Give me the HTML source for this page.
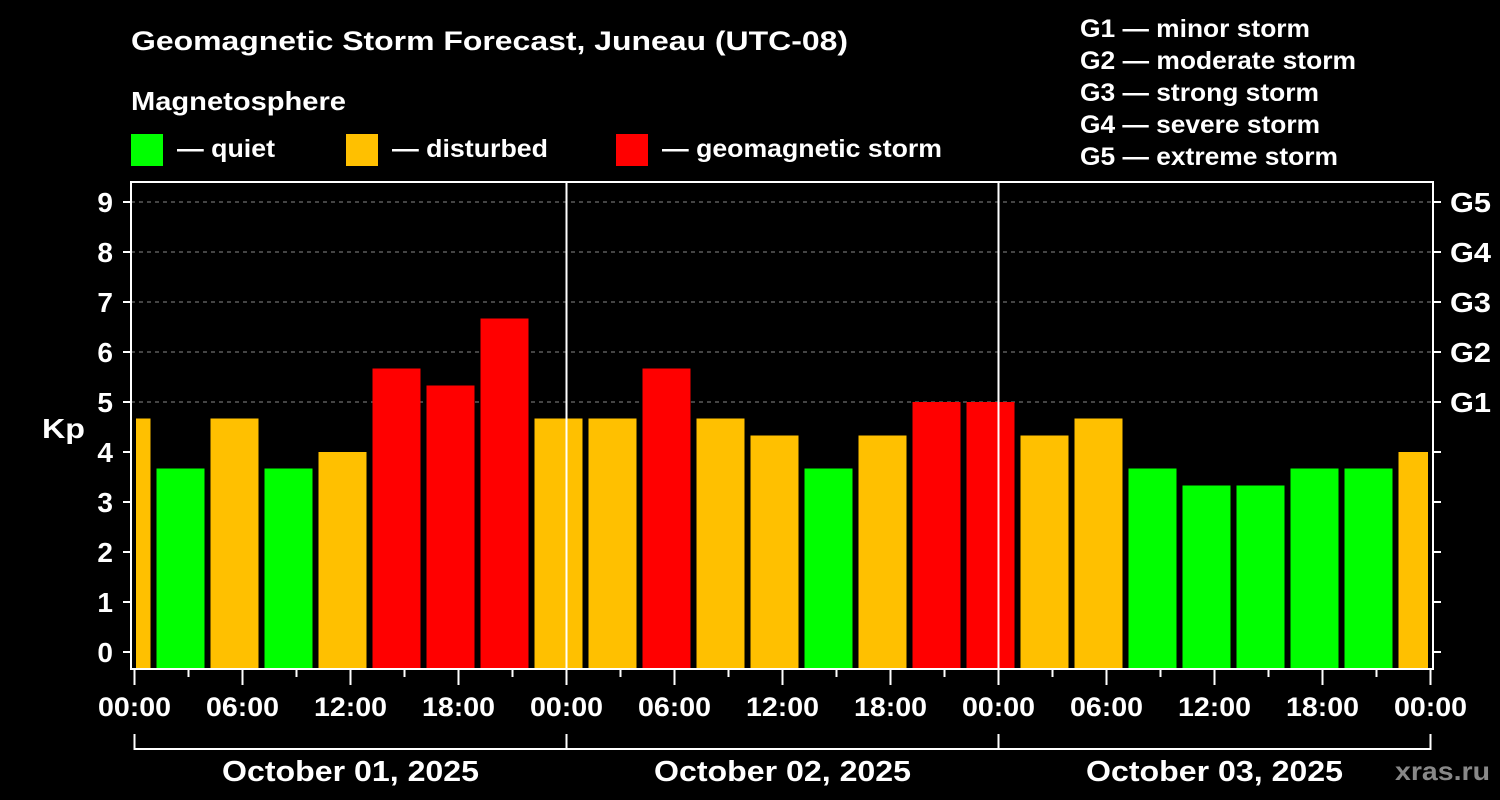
<!DOCTYPE html>
<html><head><meta charset="utf-8"><style>
html,body{margin:0;background:#000;width:1500px;height:800px;overflow:hidden}
svg{display:block;font-family:"Liberation Sans",Arial,sans-serif;font-weight:bold;fill:#fff}
</style></head><body>
<svg id="c" width="1500" height="800">
<text x="131" y="50" font-size="27" textLength="717" lengthAdjust="spacingAndGlyphs">Geomagnetic Storm Forecast, Juneau (UTC-08)</text>
<text x="131" y="110" font-size="26" textLength="215" lengthAdjust="spacingAndGlyphs">Magnetosphere</text>
<g><rect x="131" y="134" width="32" height="32" fill="#00ff00"/><text x="177" y="157" font-size="25" textLength="98" lengthAdjust="spacingAndGlyphs">— quiet</text></g>
<g><rect x="346" y="134" width="32" height="32" fill="#ffc000"/><text x="392" y="157" font-size="25" textLength="156" lengthAdjust="spacingAndGlyphs">— disturbed</text></g>
<g><rect x="616" y="134" width="32" height="32" fill="#ff0000"/><text x="662" y="157" font-size="25" textLength="280" lengthAdjust="spacingAndGlyphs">— geomagnetic storm</text></g>
<g font-size="25">
<text x="1080" y="37" textLength="230" lengthAdjust="spacingAndGlyphs">G1 — minor storm</text><text x="1080" y="69" textLength="276" lengthAdjust="spacingAndGlyphs">G2 — moderate storm</text><text x="1080" y="101" textLength="239" lengthAdjust="spacingAndGlyphs">G3 — strong storm</text><text x="1080" y="133" textLength="240" lengthAdjust="spacingAndGlyphs">G4 — severe storm</text><text x="1080" y="165" textLength="258" lengthAdjust="spacingAndGlyphs">G5 — extreme storm</text></g>
<text x="42" y="438" font-size="28" textLength="43" lengthAdjust="spacingAndGlyphs">Kp</text>
<text x="1395" y="780" font-size="26" textLength="95" lengthAdjust="spacingAndGlyphs" style="fill:#888">xras.ru</text>
<g id="grid"></g><g id="bars"></g><g id="axes"></g>
</svg>
<script>
const kpValues=[4.67,3.67,4.67,3.67,4.0,5.67,5.33,6.67,4.67,4.67,5.67,4.67,4.33,3.67,4.33,5.0,5.0,4.33,4.67,3.67,3.33,3.33,3.67,3.67,4.0];
const yTicks=[0,1,2,3,4,5,6,7,8,9];
const gLabels=["G1","G2","G3","G4","G5"];
const hourLabels=["00:00","06:00","12:00","18:00"];
const dayLabels=["October 01, 2025","October 02, 2025","October 03, 2025"];
const NS="http://www.w3.org/2000/svg";
const L=131,R=1433,T=182,B=669,X0=134.5,pxH=18;
const y=v=>652-v*50, x=h=>X0+h*pxH;
function el(p,t,a){const e=document.createElementNS(NS,t);for(const k in a)e.setAttribute(k,a[k]);p.appendChild(e);return e;}
const grid=document.getElementById('grid'),bars=document.getElementById('bars'),ax=document.getElementById('axes');
for(let v=5;v<=9;v++){const g=el(grid,'line',{x1:L,x2:R,y1:y(v),y2:y(v),stroke:'#888','stroke-dasharray':'4,4','stroke-width':1});

}
kpValues.forEach((v,i)=>{
 let s=-2+i*3,e=s+3;
 let x1=Math.max(x(s)+4,L+5),x2=Math.min(x(e)-2,R-5);
 const c=v>=5?'#ff0000':(v>=4?'#ffc000':'#00ff00');
 const r=el(bars,'rect',{x:x1,y:y(v),width:x2-x1,height:B-y(v),fill:c});
 
 
});
const fr=el(ax,'rect',{x:L,y:T,width:R-L,height:B-T,fill:'none',stroke:'#fff','stroke-width':2});


[1,2].forEach(d=>{const l=el(ax,'line',{x1:x(d*24),x2:x(d*24),y1:T,y2:B,stroke:'#fff','stroke-width':2});

});
yTicks.forEach(v=>{
 el(ax,'line',{x1:123,x2:L,y1:y(v),y2:y(v),stroke:'#fff','stroke-width':2});
 el(ax,'line',{x1:R,x2:1441,y1:y(v),y2:y(v),stroke:'#fff','stroke-width':2});
 const t=el(ax,'text',{x:113,y:y(v)+10,'font-size':28,'text-anchor':'end'});t.textContent=v;
 
 
});
gLabels.forEach((g,i)=>{const t=el(ax,'text',{x:1450,y:y(5+i)+10,'font-size':28,textLength:41,lengthAdjust:'spacingAndGlyphs'});t.textContent=g;
 
 });
for(let h=0;h<=72;h+=3){const maj=h%6===0;el(ax,'line',{x1:x(h),x2:x(h),y1:B,y2:maj?685:677,stroke:'#fff','stroke-width':2});
 if(maj){const t=el(ax,'text',{x:x(h),y:716,'font-size':27,'text-anchor':'middle',textLength:73,lengthAdjust:'spacingAndGlyphs'});t.textContent=hourLabels[(h/6)%4];
 
 }}
el(ax,'line',{x1:x(0),x2:x(72),y1:749,y2:749,stroke:'#fff','stroke-width':2});
for(let d=0;d<=3;d++)el(ax,'line',{x1:x(d*24),x2:x(d*24),y1:734,y2:750,stroke:'#fff','stroke-width':2});
dayLabels.forEach((s,i)=>{const t=el(ax,'text',{x:x(i*24+12),y:781,'font-size':29,'text-anchor':'middle',textLength:257,lengthAdjust:'spacingAndGlyphs'});t.textContent=s;
 
 });
</script>
</body></html>
